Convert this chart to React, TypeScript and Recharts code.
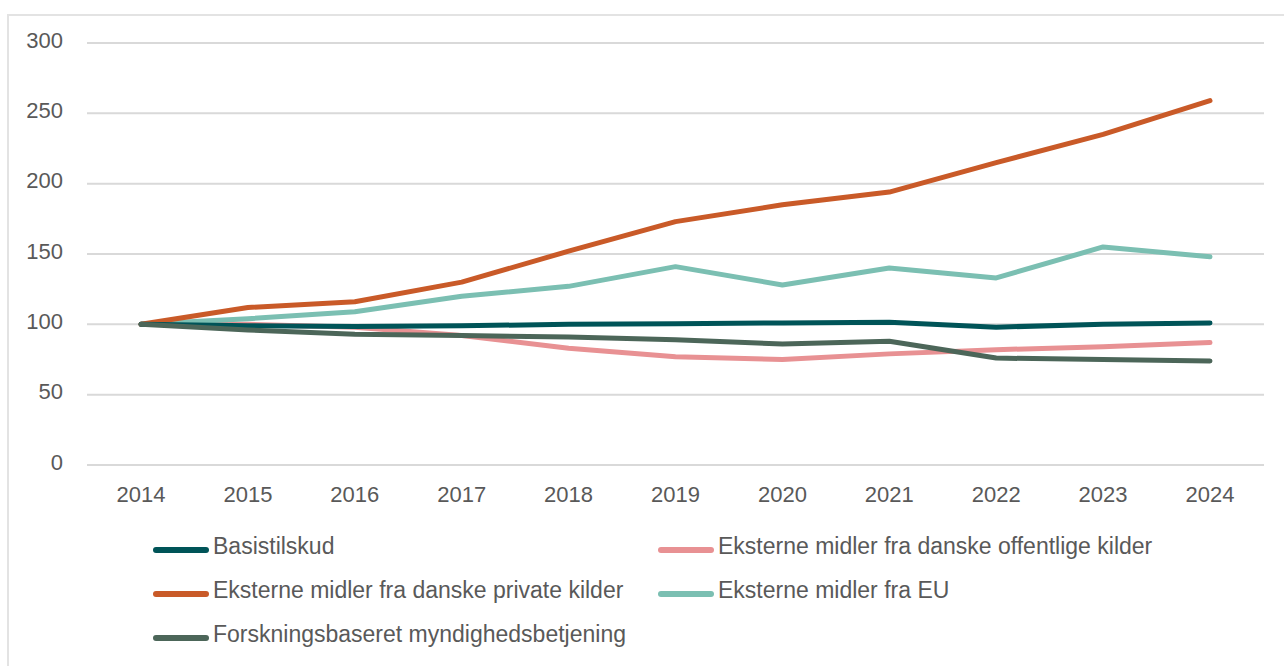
import { CartesianGrid, Line, LineChart, XAxis, YAxis } from "recharts";

const years = ["2014", "2015", "2016", "2017", "2018", "2019", "2020", "2021", "2022", "2023", "2024"];

const basistilskud = [100, 99, 98.5, 99, 100, 100.5, 101, 101.5, 98, 100, 101];
const offentlige = [100, 100, 98, 92, 83, 77, 75, 79, 82, 84, 87];
const private_ = [100, 112, 116, 130, 152, 173, 185, 194, 215, 235, 259];
const eu = [100, 104, 109, 120, 127, 141, 128, 140, 133, 155, 148];
const myndighed = [100, 96, 93, 92, 91, 89, 86, 88, 76, 75, 74];

const yTicks = [0, 50, 100, 150, 200, 250, 300];

const SERIES = [
  { key: "Basistilskud", values: basistilskud, color: "#005458" },
  { key: "Eksterne midler fra danske offentlige kilder", values: offentlige, color: "#E89193" },
  { key: "Eksterne midler fra danske private kilder", values: private_, color: "#C95A28" },
  { key: "Eksterne midler fra EU", values: eu, color: "#7BBFB2" },
  { key: "Forskningsbaseret myndighedsbetjening", values: myndighed, color: "#4C6659" },
];

// draw order: lighter/pink first so the dark lines sit on top like the original
const DRAW_ORDER = [1, 3, 2, 0, 4];

const rows = years.map((year, i) => {
  const row: Record<string, string | number> = { year };
  for (const s of SERIES) row[s.key] = s.values[i];
  return row;
});

const FONT = '"Liberation Sans", Arial, sans-serif';
const TEXT = "#595959";

export default function App() {
  return (
    <div style={{ position: "absolute", left: 0, top: 0, width: 1284, height: 666, background: "#fff", fontFamily: FONT }}>
      <div
        style={{
          position: "absolute",
          left: 7,
          top: 14,
          right: 0,
          bottom: 0,
          borderTop: "2px solid #e3e3e3",
          borderLeft: "2px solid #e3e3e3",
        }}
      />
      <div style={{ position: "absolute", left: 0, top: 0 }}>
        <LineChart width={1284} height={666} data={rows} margin={{ top: 43, right: 20, bottom: 171, left: 0 }}>
          <CartesianGrid vertical={false} stroke="#d9d9d9" strokeWidth={2} />
          <XAxis
            dataKey="year"
            tick={{ fill: TEXT, fontSize: 22, fontFamily: FONT }}
            axisLine={{ stroke: "#d9d9d9", strokeWidth: 2 }}
            tickLine={false}
            tickMargin={15}
            height={30}
            interval={0}
            padding={{ left: 54, right: 54 }}
          />
          <YAxis
            domain={[0, 300]}
            ticks={yTicks}
            tick={{ fill: TEXT, fontSize: 22, fontFamily: FONT, dy: -3 }}
            axisLine={false}
            tickLine={false}
            tickMargin={18}
            width={87}
          />
          {DRAW_ORDER.map((idx) => {
            const s = SERIES[idx];
            return (
              <Line
                key={s.key}
                dataKey={s.key}
                type="linear"
                stroke={s.color}
                strokeWidth={5}
                strokeLinecap="round"
                strokeLinejoin="round"
                dot={false}
                activeDot={false}
                isAnimationActive={false}
              />
            );
          })}
        </LineChart>
      </div>
      <div
        style={{
          position: "absolute",
          left: 153,
          top: 532,
          display: "grid",
          gridTemplateColumns: "505px 560px",
          rowGap: 15,
          fontSize: 23,
          color: TEXT,
          lineHeight: "29px",
        }}
      >
        {SERIES.map((s) => (
          <span key={s.key} style={{ display: "flex", alignItems: "center", whiteSpace: "nowrap" }}>
            <span
              style={{
                display: "inline-block",
                width: 56,
                height: 6,
                borderRadius: 3,
                background: s.color,
                marginRight: 4,
                marginTop: 6,
              }}
            />
            {s.key}
          </span>
        ))}
      </div>
    </div>
  );
}
